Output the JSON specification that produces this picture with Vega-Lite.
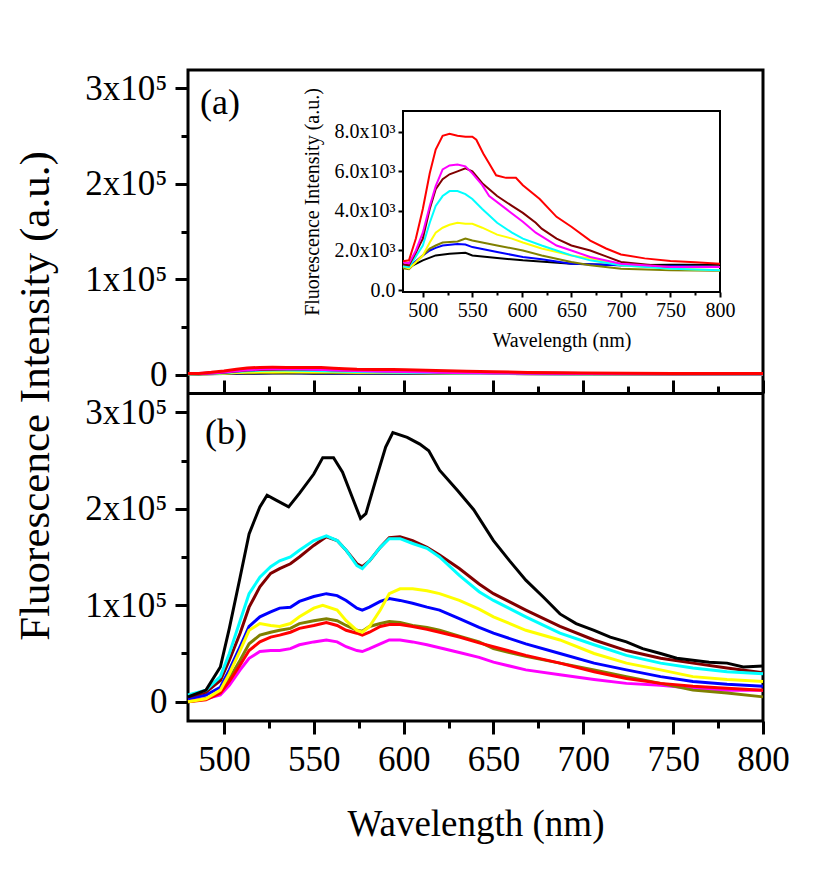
{
  "$schema": "https://vega.github.io/schema/vega-lite/v6.json",
  "width": 575,
  "height": 651,
  "autosize": {"type": "none"},
  "padding": {"left": 188, "top": 70, "right": 77, "bottom": 169},
  "background": "white",
  "config": {
    "font": "Liberation Serif",
    "view": {"stroke": "black", "strokeWidth": 3},
    "axis": {"grid": false, "labelColor": "black", "titleColor": "black", "tickColor": "black", "domainColor": "black", "titleFontWeight": "normal", "labelFont": "Liberation Serif", "titleFont": "Liberation Serif", "labelOverlap": false, "labelFlush": false}
  },
  "datasets": {
    "b": [
      {"s":"S8","w":480,"v":2000},{"s":"S8","w":490,"v":3000},{"s":"S8","w":498,"v":7000},{"s":"S8","w":503,"v":17000},{"s":"S8","w":509,"v":33000},{"s":"S8","w":514,"v":45000},{"s":"S8","w":520,"v":52000},{"s":"S8","w":526,"v":53000},{"s":"S8","w":531,"v":53000},{"s":"S8","w":537,"v":55000},{"s":"S8","w":542,"v":59000},{"s":"S8","w":550,"v":62000},{"s":"S8","w":557,"v":64000},{"s":"S8","w":563,"v":62000},{"s":"S8","w":568,"v":57000},{"s":"S8","w":574,"v":53000},{"s":"S8","w":577,"v":52000},{"s":"S8","w":581,"v":55000},{"s":"S8","w":587,"v":60000},{"s":"S8","w":592,"v":64000},{"s":"S8","w":598,"v":64000},{"s":"S8","w":605,"v":62000},{"s":"S8","w":613,"v":59000},{"s":"S8","w":620,"v":56000},{"s":"S8","w":631,"v":51000},{"s":"S8","w":642,"v":46000},{"s":"S8","w":650,"v":41000},{"s":"S8","w":668,"v":33000},{"s":"S8","w":687,"v":28000},{"s":"S8","w":706,"v":23000},{"s":"S8","w":724,"v":19000},{"s":"S8","w":743,"v":17000},{"s":"S8","w":761,"v":14000},{"s":"S8","w":780,"v":12000},{"s":"S8","w":800,"v":12000},
      {"s":"S6","w":480,"v":0},{"s":"S6","w":490,"v":3000},{"s":"S6","w":498,"v":10000},{"s":"S6","w":503,"v":24000},{"s":"S6","w":509,"v":43000},{"s":"S6","w":514,"v":60000},{"s":"S6","w":520,"v":69000},{"s":"S6","w":526,"v":72000},{"s":"S6","w":531,"v":74000},{"s":"S6","w":537,"v":76000},{"s":"S6","w":542,"v":81000},{"s":"S6","w":550,"v":84000},{"s":"S6","w":557,"v":86000},{"s":"S6","w":563,"v":84000},{"s":"S6","w":568,"v":79000},{"s":"S6","w":574,"v":74000},{"s":"S6","w":577,"v":73000},{"s":"S6","w":581,"v":78000},{"s":"S6","w":587,"v":81000},{"s":"S6","w":592,"v":83000},{"s":"S6","w":598,"v":82000},{"s":"S6","w":605,"v":79000},{"s":"S6","w":613,"v":77000},{"s":"S6","w":620,"v":74000},{"s":"S6","w":631,"v":68000},{"s":"S6","w":642,"v":62000},{"s":"S6","w":650,"v":55000},{"s":"S6","w":668,"v":47000},{"s":"S6","w":687,"v":40000},{"s":"S6","w":706,"v":33000},{"s":"S6","w":724,"v":26000},{"s":"S6","w":743,"v":19000},{"s":"S6","w":761,"v":12000},{"s":"S6","w":780,"v":9000},{"s":"S6","w":800,"v":5000},
      {"s":"S7","w":480,"v":0},{"s":"S7","w":490,"v":2000},{"s":"S7","w":498,"v":9000},{"s":"S7","w":503,"v":21000},{"s":"S7","w":509,"v":38000},{"s":"S7","w":514,"v":53000},{"s":"S7","w":520,"v":62000},{"s":"S7","w":526,"v":67000},{"s":"S7","w":531,"v":69000},{"s":"S7","w":537,"v":72000},{"s":"S7","w":542,"v":76000},{"s":"S7","w":550,"v":79000},{"s":"S7","w":557,"v":82000},{"s":"S7","w":563,"v":79000},{"s":"S7","w":568,"v":74000},{"s":"S7","w":574,"v":71000},{"s":"S7","w":577,"v":69000},{"s":"S7","w":581,"v":72000},{"s":"S7","w":587,"v":78000},{"s":"S7","w":592,"v":80000},{"s":"S7","w":598,"v":80000},{"s":"S7","w":605,"v":78000},{"s":"S7","w":613,"v":75000},{"s":"S7","w":620,"v":72000},{"s":"S7","w":631,"v":67000},{"s":"S7","w":642,"v":61000},{"s":"S7","w":650,"v":57000},{"s":"S7","w":668,"v":48000},{"s":"S7","w":687,"v":40000},{"s":"S7","w":706,"v":31000},{"s":"S7","w":724,"v":24000},{"s":"S7","w":743,"v":19000},{"s":"S7","w":761,"v":16000},{"s":"S7","w":780,"v":14000},{"s":"S7","w":800,"v":12000},
      {"s":"S4","w":480,"v":3000},{"s":"S4","w":490,"v":7000},{"s":"S4","w":498,"v":15000},{"s":"S4","w":503,"v":33000},{"s":"S4","w":509,"v":57000},{"s":"S4","w":514,"v":78000},{"s":"S4","w":520,"v":88000},{"s":"S4","w":526,"v":93000},{"s":"S4","w":531,"v":97000},{"s":"S4","w":537,"v":98000},{"s":"S4","w":542,"v":104000},{"s":"S4","w":550,"v":109000},{"s":"S4","w":557,"v":112000},{"s":"S4","w":563,"v":110000},{"s":"S4","w":568,"v":105000},{"s":"S4","w":574,"v":97000},{"s":"S4","w":577,"v":95000},{"s":"S4","w":581,"v":98000},{"s":"S4","w":587,"v":104000},{"s":"S4","w":592,"v":107000},{"s":"S4","w":598,"v":105000},{"s":"S4","w":605,"v":102000},{"s":"S4","w":613,"v":98000},{"s":"S4","w":620,"v":95000},{"s":"S4","w":631,"v":86000},{"s":"S4","w":642,"v":77000},{"s":"S4","w":650,"v":71000},{"s":"S4","w":668,"v":60000},{"s":"S4","w":687,"v":50000},{"s":"S4","w":706,"v":40000},{"s":"S4","w":724,"v":33000},{"s":"S4","w":743,"v":26000},{"s":"S4","w":761,"v":21000},{"s":"S4","w":780,"v":18000},{"s":"S4","w":800,"v":16000},
      {"s":"S5","w":480,"v":0},{"s":"S5","w":490,"v":3000},{"s":"S5","w":498,"v":12000},{"s":"S5","w":503,"v":29000},{"s":"S5","w":509,"v":53000},{"s":"S5","w":514,"v":74000},{"s":"S5","w":520,"v":81000},{"s":"S5","w":526,"v":79000},{"s":"S5","w":531,"v":78000},{"s":"S5","w":537,"v":81000},{"s":"S5","w":542,"v":88000},{"s":"S5","w":550,"v":97000},{"s":"S5","w":555,"v":100000},{"s":"S5","w":563,"v":95000},{"s":"S5","w":568,"v":84000},{"s":"S5","w":574,"v":74000},{"s":"S5","w":577,"v":72000},{"s":"S5","w":581,"v":78000},{"s":"S5","w":587,"v":95000},{"s":"S5","w":592,"v":112000},{"s":"S5","w":598,"v":117000},{"s":"S5","w":605,"v":117000},{"s":"S5","w":613,"v":115000},{"s":"S5","w":620,"v":112000},{"s":"S5","w":631,"v":105000},{"s":"S5","w":642,"v":96000},{"s":"S5","w":650,"v":88000},{"s":"S5","w":668,"v":74000},{"s":"S5","w":687,"v":64000},{"s":"S5","w":706,"v":50000},{"s":"S5","w":724,"v":40000},{"s":"S5","w":743,"v":33000},{"s":"S5","w":761,"v":26000},{"s":"S5","w":780,"v":23000},{"s":"S5","w":800,"v":21000},
      {"s":"S3","w":480,"v":5000},{"s":"S3","w":490,"v":10000},{"s":"S3","w":498,"v":22000},{"s":"S3","w":503,"v":43000},{"s":"S3","w":509,"v":71000},{"s":"S3","w":514,"v":98000},{"s":"S3","w":520,"v":119000},{"s":"S3","w":526,"v":133000},{"s":"S3","w":531,"v":138000},{"s":"S3","w":537,"v":143000},{"s":"S3","w":542,"v":150000},{"s":"S3","w":550,"v":162000},{"s":"S3","w":557,"v":171000},{"s":"S3","w":563,"v":167000},{"s":"S3","w":568,"v":157000},{"s":"S3","w":574,"v":143000},{"s":"S3","w":577,"v":140000},{"s":"S3","w":581,"v":146000},{"s":"S3","w":587,"v":160000},{"s":"S3","w":592,"v":170000},{"s":"S3","w":598,"v":171000},{"s":"S3","w":605,"v":167000},{"s":"S3","w":613,"v":160000},{"s":"S3","w":620,"v":152000},{"s":"S3","w":631,"v":138000},{"s":"S3","w":642,"v":122000},{"s":"S3","w":650,"v":112000},{"s":"S3","w":668,"v":95000},{"s":"S3","w":687,"v":78000},{"s":"S3","w":706,"v":64000},{"s":"S3","w":724,"v":53000},{"s":"S3","w":743,"v":45000},{"s":"S3","w":761,"v":40000},{"s":"S3","w":780,"v":35000},{"s":"S3","w":800,"v":30000},
      {"s":"S2","w":480,"v":7000},{"s":"S2","w":490,"v":12000},{"s":"S2","w":498,"v":26000},{"s":"S2","w":503,"v":50000},{"s":"S2","w":509,"v":84000},{"s":"S2","w":514,"v":112000},{"s":"S2","w":520,"v":129000},{"s":"S2","w":526,"v":140000},{"s":"S2","w":531,"v":146000},{"s":"S2","w":537,"v":150000},{"s":"S2","w":542,"v":157000},{"s":"S2","w":550,"v":167000},{"s":"S2","w":557,"v":172000},{"s":"S2","w":563,"v":167000},{"s":"S2","w":568,"v":157000},{"s":"S2","w":574,"v":141000},{"s":"S2","w":577,"v":138000},{"s":"S2","w":581,"v":146000},{"s":"S2","w":587,"v":160000},{"s":"S2","w":592,"v":169000},{"s":"S2","w":598,"v":169000},{"s":"S2","w":605,"v":164000},{"s":"S2","w":613,"v":159000},{"s":"S2","w":620,"v":150000},{"s":"S2","w":631,"v":131000},{"s":"S2","w":642,"v":114000},{"s":"S2","w":650,"v":105000},{"s":"S2","w":668,"v":88000},{"s":"S2","w":687,"v":71000},{"s":"S2","w":706,"v":59000},{"s":"S2","w":724,"v":48000},{"s":"S2","w":743,"v":40000},{"s":"S2","w":761,"v":35000},{"s":"S2","w":780,"v":31000},{"s":"S2","w":800,"v":29000},
      {"s":"S1","w":480,"v":5000},{"s":"S1","w":490,"v":12000},{"s":"S1","w":498,"v":36000},{"s":"S1","w":503,"v":76000},{"s":"S1","w":509,"v":129000},{"s":"S1","w":514,"v":174000},{"s":"S1","w":520,"v":202000},{"s":"S1","w":524,"v":214000},{"s":"S1","w":529,"v":209000},{"s":"S1","w":536,"v":202000},{"s":"S1","w":542,"v":216000},{"s":"S1","w":550,"v":236000},{"s":"S1","w":555,"v":253000},{"s":"S1","w":561,"v":253000},{"s":"S1","w":566,"v":238000},{"s":"S1","w":572,"v":209000},{"s":"S1","w":576,"v":190000},{"s":"S1","w":579,"v":195000},{"s":"S1","w":585,"v":233000},{"s":"S1","w":590,"v":264000},{"s":"S1","w":594,"v":279000},{"s":"S1","w":602,"v":274000},{"s":"S1","w":609,"v":267000},{"s":"S1","w":614,"v":260000},{"s":"S1","w":620,"v":240000},{"s":"S1","w":630,"v":219000},{"s":"S1","w":639,"v":199000},{"s":"S1","w":650,"v":167000},{"s":"S1","w":659,"v":146000},{"s":"S1","w":668,"v":126000},{"s":"S1","w":678,"v":108000},{"s":"S1","w":687,"v":91000},{"s":"S1","w":696,"v":81000},{"s":"S1","w":706,"v":74000},{"s":"S1","w":715,"v":67000},{"s":"S1","w":724,"v":62000},{"s":"S1","w":733,"v":55000},{"s":"S1","w":743,"v":50000},{"s":"S1","w":752,"v":45000},{"s":"S1","w":761,"v":43000},{"s":"S1","w":770,"v":41000},{"s":"S1","w":780,"v":40000},{"s":"S1","w":789,"v":36000},{"s":"S1","w":800,"v":37000}
    ],
    "a": [
      {"s":"S1","w":480,"v":1200},{"s":"S1","w":486,"v":1150},{"s":"S1","w":490,"v":1250},{"s":"S1","w":500,"v":1500},{"s":"S1","w":513,"v":1750},{"s":"S1","w":527,"v":1830},{"s":"S1","w":543,"v":1880},{"s":"S1","w":550,"v":1750},{"s":"S1","w":575,"v":1620},{"s":"S1","w":601,"v":1500},{"s":"S1","w":650,"v":1330},{"s":"S1","w":700,"v":1250},{"s":"S1","w":750,"v":1280},{"s":"S1","w":800,"v":1280},
      {"s":"S4","w":480,"v":1200},{"s":"S4","w":486,"v":1150},{"s":"S4","w":490,"v":1330},{"s":"S4","w":500,"v":1750},{"s":"S4","w":507,"v":2000},{"s":"S4","w":513,"v":2130},{"s":"S4","w":520,"v":2250},{"s":"S4","w":535,"v":2330},{"s":"S4","w":543,"v":2300},{"s":"S4","w":550,"v":2170},{"s":"S4","w":575,"v":1920},{"s":"S4","w":601,"v":1670},{"s":"S4","w":620,"v":1550},{"s":"S4","w":650,"v":1330},{"s":"S4","w":700,"v":1250},{"s":"S4","w":750,"v":1200},{"s":"S4","w":800,"v":1170},
      {"s":"S6","w":480,"v":1100},{"s":"S6","w":486,"v":1050},{"s":"S6","w":490,"v":1250},{"s":"S6","w":500,"v":1750},{"s":"S6","w":507,"v":2100},{"s":"S6","w":513,"v":2250},{"s":"S6","w":520,"v":2400},{"s":"S6","w":535,"v":2450},{"s":"S6","w":543,"v":2600},{"s":"S6","w":550,"v":2500},{"s":"S6","w":560,"v":2400},{"s":"S6","w":575,"v":2250},{"s":"S6","w":601,"v":2000},{"s":"S6","w":620,"v":1750},{"s":"S6","w":650,"v":1420},{"s":"S6","w":669,"v":1250},{"s":"S6","w":700,"v":1080},{"s":"S6","w":750,"v":1000},{"s":"S6","w":800,"v":970},
      {"s":"S5","w":480,"v":1200},{"s":"S5","w":486,"v":1100},{"s":"S5","w":493,"v":1400},{"s":"S5","w":500,"v":1750},{"s":"S5","w":507,"v":2400},{"s":"S5","w":513,"v":2900},{"s":"S5","w":520,"v":3150},{"s":"S5","w":527,"v":3300},{"s":"S5","w":535,"v":3400},{"s":"S5","w":543,"v":3350},{"s":"S5","w":550,"v":3350},{"s":"S5","w":560,"v":3150},{"s":"S5","w":575,"v":2800},{"s":"S5","w":590,"v":2600},{"s":"S5","w":601,"v":2400},{"s":"S5","w":620,"v":2100},{"s":"S5","w":650,"v":1750},{"s":"S5","w":669,"v":1600},{"s":"S5","w":700,"v":1250},{"s":"S5","w":750,"v":1080},{"s":"S5","w":800,"v":1000},
      {"s":"S2","w":480,"v":1200},{"s":"S2","w":486,"v":1150},{"s":"S2","w":493,"v":1700},{"s":"S2","w":500,"v":2250},{"s":"S2","w":507,"v":3400},{"s":"S2","w":513,"v":4250},{"s":"S2","w":520,"v":4750},{"s":"S2","w":527,"v":5000},{"s":"S2","w":535,"v":5000},{"s":"S2","w":543,"v":4850},{"s":"S2","w":550,"v":4600},{"s":"S2","w":560,"v":4100},{"s":"S2","w":575,"v":3400},{"s":"S2","w":590,"v":2900},{"s":"S2","w":601,"v":2600},{"s":"S2","w":620,"v":2250},{"s":"S2","w":635,"v":2000},{"s":"S2","w":650,"v":1750},{"s":"S2","w":669,"v":1500},{"s":"S2","w":700,"v":1250},{"s":"S2","w":750,"v":1080},{"s":"S2","w":800,"v":1000},
      {"s":"S3","w":480,"v":1300},{"s":"S3","w":486,"v":1250},{"s":"S3","w":493,"v":1900},{"s":"S3","w":500,"v":2600},{"s":"S3","w":507,"v":4100},{"s":"S3","w":513,"v":5100},{"s":"S3","w":520,"v":5600},{"s":"S3","w":527,"v":5850},{"s":"S3","w":535,"v":6000},{"s":"S3","w":543,"v":6150},{"s":"S3","w":550,"v":6000},{"s":"S3","w":560,"v":5400},{"s":"S3","w":575,"v":4750},{"s":"S3","w":590,"v":4250},{"s":"S3","w":601,"v":3900},{"s":"S3","w":614,"v":3400},{"s":"S3","w":620,"v":3100},{"s":"S3","w":635,"v":2600},{"s":"S3","w":650,"v":2250},{"s":"S3","w":669,"v":2000},{"s":"S3","w":685,"v":1700},{"s":"S3","w":700,"v":1420},{"s":"S3","w":750,"v":1170},{"s":"S3","w":800,"v":1170},
      {"s":"S8","w":480,"v":1400},{"s":"S8","w":486,"v":1350},{"s":"S8","w":493,"v":2000},{"s":"S8","w":500,"v":2900},{"s":"S8","w":507,"v":4250},{"s":"S8","w":513,"v":5250},{"s":"S8","w":520,"v":6100},{"s":"S8","w":527,"v":6300},{"s":"S8","w":535,"v":6350},{"s":"S8","w":543,"v":6250},{"s":"S8","w":550,"v":5900},{"s":"S8","w":560,"v":5300},{"s":"S8","w":567,"v":4750},{"s":"S8","w":584,"v":4100},{"s":"S8","w":601,"v":3450},{"s":"S8","w":614,"v":2900},{"s":"S8","w":635,"v":2250},{"s":"S8","w":650,"v":2000},{"s":"S8","w":669,"v":1670},{"s":"S8","w":700,"v":1330},{"s":"S8","w":750,"v":1170},{"s":"S8","w":800,"v":1170},
      {"s":"S7","w":480,"v":1450},{"s":"S7","w":486,"v":1500},{"s":"S7","w":493,"v":2600},{"s":"S7","w":500,"v":4100},{"s":"S7","w":507,"v":5900},{"s":"S7","w":513,"v":7100},{"s":"S7","w":520,"v":7800},{"s":"S7","w":527,"v":7900},{"s":"S7","w":535,"v":7800},{"s":"S7","w":543,"v":7750},{"s":"S7","w":550,"v":7750},{"s":"S7","w":554,"v":7600},{"s":"S7","w":561,"v":6900},{"s":"S7","w":567,"v":6400},{"s":"S7","w":574,"v":5800},{"s":"S7","w":584,"v":5670},{"s":"S7","w":594,"v":5670},{"s":"S7","w":601,"v":5300},{"s":"S7","w":618,"v":4600},{"s":"S7","w":635,"v":3700},{"s":"S7","w":650,"v":3200},{"s":"S7","w":669,"v":2500},{"s":"S7","w":685,"v":2100},{"s":"S7","w":700,"v":1800},{"s":"S7","w":724,"v":1600},{"s":"S7","w":750,"v":1470},{"s":"S7","w":775,"v":1400},{"s":"S7","w":800,"v":1330}
    ]
  },
  "resolve": {"scale": {"x": "independent", "y": "independent"}, "axis": {"x": "independent", "y": "independent"}},
  "layer": [
    {
      "layer": [
        {
          "data": {"name": "b"},
          "mark": {"type": "line", "strokeWidth": 3},
          "encoding": {
            "x": {"field": "w", "type": "quantitative", "scale": {"domain": [480, 800], "nice": false, "zero": false},
              "axis": {"orient": "bottom", "values": [500,525,550,575,600,625,650,675,700,725,750,775,800], "domain": false,
                "tickSize": {"condition": {"test": "datum.value % 50 === 0", "value": 13}, "value": 7}, "tickWidth": 3,
                "labelExpr": "datum.value % 50 === 0 ? format(datum.value, 'd') : ''", "labelFontSize": 35, "labelPadding": 8,
                "title": "Wavelength (nm)", "titleFontSize": 37, "titlePadding": 29}},
            "y": {"field": "v", "type": "quantitative", "scale": {"domain": [-20000, 320000], "range": [651, 323], "nice": false, "zero": false},
              "axis": {"orient": "left", "values": [0,50000,100000,150000,200000,250000,300000], "domain": false,
                "tickSize": {"condition": {"test": "datum.value % 100000 === 0", "value": 13}, "value": 7}, "tickWidth": 3,
                "labelExpr": "datum.value === 0 ? '0' : (datum.value % 100000 === 0 ? format(datum.value / 100000, 'd') + 'x10⁵' : '')",
                "labelFontSize": 35, "labelPadding": 8,
                "title": "Fluorescence Intensity (a.u.)", "titleFontSize": 43, "titleY": 325.5, "titlePadding": 27}},
            "color": {"field": "s", "type": "nominal", "scale": {"domain": ["S1","S2","S3","S4","S5","S6","S7","S8"], "range": ["#000000","#00FFFF","#800000","#0000FF","#FFFF00","#808000","#FF0000","#FF00FF"]}, "legend": null}
          }
        },
        {
          "data": {"values": [{}]},
          "mark": {"type": "text", "text": "(b)", "font": "Liberation Serif", "fontSize": 36, "align": "left", "baseline": "middle", "dx": 17, "color": "black"},
          "encoding": {"x": {"datum": 480, "type": "quantitative"}, "y": {"datum": 279000, "type": "quantitative"}}
        }
      ]
    },
    {
      "layer": [
        {
          "data": {"name": "a"},
          "mark": {"type": "line", "strokeWidth": 3},
          "encoding": {
            "x": {"field": "w", "type": "quantitative", "scale": {"domain": [480, 800], "nice": false, "zero": false},
              "axis": {"orient": "top", "offset": -323, "values": [500,525,550,575,600,625,650,675,700,725,750,775,800], "domain": true, "domainWidth": 3,
                "tickSize": {"condition": {"test": "datum.value % 50 === 0", "value": 13}, "value": 7}, "tickWidth": 3,
                "labels": false, "title": null}},
            "y": {"field": "v", "type": "quantitative", "scale": {"domain": [-19000, 319000], "range": [323, 0], "nice": false, "zero": false},
              "axis": {"orient": "left", "values": [0,50000,100000,150000,200000,250000,300000], "domain": false,
                "tickSize": {"condition": {"test": "datum.value % 100000 === 0", "value": 13}, "value": 7}, "tickWidth": 3,
                "labelExpr": "datum.value === 0 ? '0' : (datum.value % 100000 === 0 ? format(datum.value / 100000, 'd') + 'x10⁵' : '')",
                "labelFontSize": 35, "labelPadding": 8, "title": null}},
            "color": {"field": "s", "type": "nominal", "legend": null}
          }
        },
        {
          "data": {"values": [{}]},
          "mark": {"type": "text", "text": "(a)", "font": "Liberation Serif", "fontSize": 36, "align": "left", "baseline": "middle", "dx": 12, "color": "black"},
          "encoding": {"x": {"datum": 480, "type": "quantitative"}, "y": {"datum": 284000, "type": "quantitative"}}
        }
      ]
    },
    {
      "layer": [
        {
          "data": {"values": [{}]},
          "mark": {"type": "rect", "fill": null, "fillOpacity": 0, "stroke": "black", "strokeWidth": 2},
          "encoding": {
            "x": {"datum": 480, "type": "quantitative", "scale": {"domain": [480, 800], "range": [215, 532], "nice": false, "zero": false},
              "axis": {"orient": "bottom", "offset": -429, "values": [500,525,550,575,600,625,650,675,700,725,750,775,800], "domain": false,
                "tickSize": {"condition": {"test": "datum.value % 50 === 0", "value": 5}, "value": 3}, "tickWidth": 2,
                "labelExpr": "datum.value % 50 === 0 ? format(datum.value, 'd') : ''", "labelFontSize": 20, "labelPadding": 3,
                "title": "Wavelength (nm)", "titleFontSize": 20, "titlePadding": 10}},
            "x2": {"datum": 800},
            "y": {"datum": -100, "type": "quantitative", "scale": {"domain": [-100, 9050], "range": [222, 41], "nice": false, "zero": false},
              "axis": {"orient": "left", "offset": -215, "values": [0, 2000, 4000, 6000, 8000], "domain": false,
                "tickSize": 5, "tickWidth": 2,
                "labelExpr": "datum.value === 0 ? '0.0' : format(datum.value / 1000, '.1f') + 'x10³'",
                "labelFontSize": 20, "labelPadding": 3,
                "title": "Fluorescence Intensity (a.u.)", "titleFontSize": 20, "titlePadding": 12}},
            "y2": {"datum": 9050}
          }
        },
        {
          "data": {"name": "a"},
          "mark": {"type": "line", "strokeWidth": 2},
          "encoding": {
            "x": {"field": "w", "type": "quantitative"},
            "y": {"field": "v", "type": "quantitative"},
            "color": {"field": "s", "type": "nominal", "legend": null}
          }
        }
      ]
    }
  ]
}
